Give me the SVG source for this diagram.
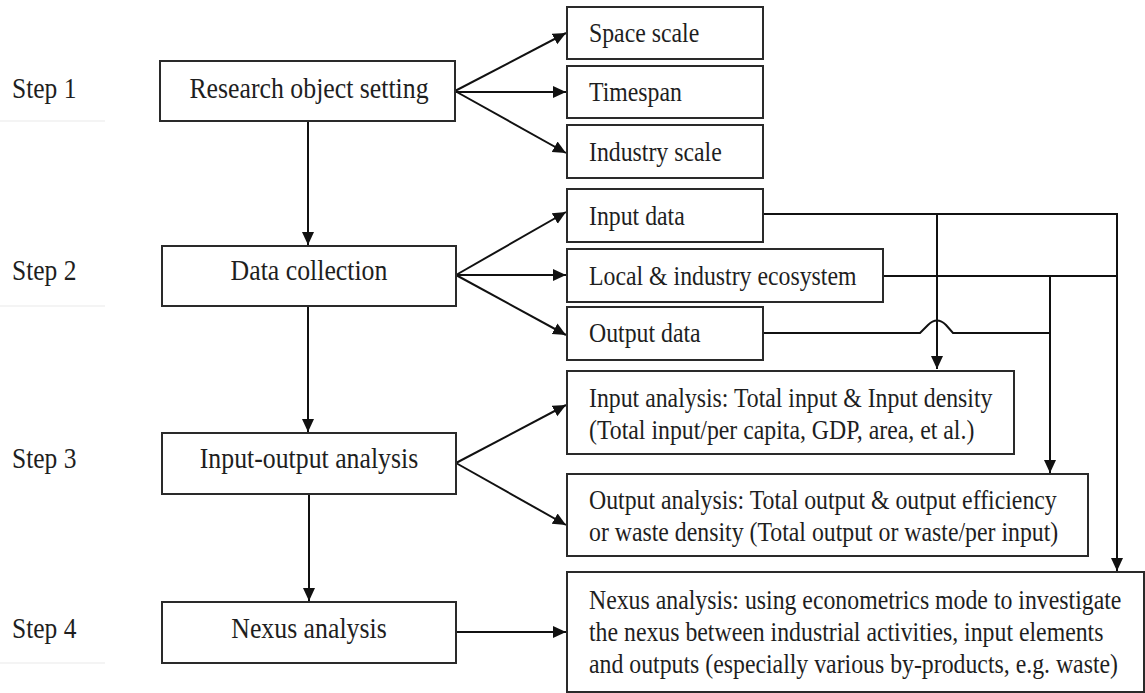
<svg xmlns="http://www.w3.org/2000/svg" width="1145" height="693" viewBox="0 0 1145 693">
<defs>
<style>
.box{fill:#fff;stroke:#2a2a2a;stroke-width:2}
.lt{font-family:"Liberation Serif","Times New Roman",serif;font-size:25.8px;fill:#1e1e1e;text-anchor:middle}
.st{font-family:"Liberation Serif","Times New Roman",serif;font-size:25.5px;fill:#1e1e1e}
.rt{font-family:"Liberation Serif","Times New Roman",serif;font-size:23.8px;fill:#1e1e1e}
.c{fill:none;stroke:#111;stroke-width:2}
.faint{stroke:#f0f0f0;stroke-width:1.5}
</style>
<marker id="ah" markerUnits="userSpaceOnUse" markerWidth="14" markerHeight="14" viewBox="0 0 14 14" refX="13" refY="7" orient="auto">
<path d="M0,1 L13,7 L0,13 Z" fill="#111"/>
</marker>
</defs>
<rect width="1145" height="693" fill="#fff"/>

<g id="steps">
<text class="st" x="12" y="98" transform="matrix(1 0 0 1.12 0 -11.76)">Step 1</text>
<text class="st" x="12" y="280" transform="matrix(1 0 0 1.12 0 -33.6)">Step 2</text>
<text class="st" x="12" y="468" transform="matrix(1 0 0 1.12 0 -56.16)">Step 3</text>
<text class="st" x="12" y="638" transform="matrix(1 0 0 1.12 0 -76.56)">Step 4</text>
<line class="faint" x1="0" y1="121" x2="105" y2="121"/>
<line class="faint" x1="0" y1="306" x2="105" y2="306"/>
<line class="faint" x1="0" y1="663" x2="105" y2="663"/>
</g>

<g id="connectors">
<path class="c" d="M308,122 V245" marker-end="url(#ah)"/>
<path class="c" d="M308,307 V432" marker-end="url(#ah)"/>
<path class="c" d="M309,495 V601" marker-end="url(#ah)"/>
<path class="c" d="M455,91 L566,33" marker-end="url(#ah)"/>
<path class="c" d="M455,92 H566" marker-end="url(#ah)"/>
<path class="c" d="M455,91 L566,153" marker-end="url(#ah)"/>
<path class="c" d="M456,275 L566,212" marker-end="url(#ah)"/>
<path class="c" d="M456,275 H566" marker-end="url(#ah)"/>
<path class="c" d="M456,275 L566,335" marker-end="url(#ah)"/>
<path class="c" d="M456,463 L566,405" marker-end="url(#ah)"/>
<path class="c" d="M456,463 L566,525" marker-end="url(#ah)"/>
<path class="c" d="M456,632 H566" marker-end="url(#ah)"/>
<path class="c" d="M763,214 H1117 V571" marker-end="url(#ah)"/>
<path class="c" d="M937,214 V369" marker-end="url(#ah)"/>
<path class="c" d="M883,276 H1117"/>
<path class="c" d="M1050,276 V473" marker-end="url(#ah)"/>
<path class="c" d="M763,333 H920 L928,325 Q937,316 946,325 L953,333 H1050"/>
</g>

<g id="n-research"><rect class="box" x="160" y="61" width="295" height="60"/><text class="lt" x="309" y="98" transform="matrix(1 0 0 1.12 0 -11.76)">Research object setting</text></g>
<g id="n-data"><rect class="box" x="162" y="246" width="294" height="60"/><text class="lt" x="309" y="280" transform="matrix(1 0 0 1.12 0 -33.6)">Data collection</text></g>
<g id="n-io"><rect class="box" x="162" y="433" width="294" height="61"/><text class="lt" x="309" y="468" transform="matrix(1 0 0 1.12 0 -56.16)">Input-output analysis</text></g>
<g id="n-nexus"><rect class="box" x="162" y="602" width="294" height="61"/><text class="lt" x="309" y="638" transform="matrix(1 0 0 1.12 0 -76.56)">Nexus analysis</text></g>

<g id="n-space"><rect class="box" x="567" y="7" width="196" height="52"/><text class="rt" x="589" y="42" transform="matrix(1 0 0 1.12 0 -5.04)">Space scale</text></g>
<g id="n-time"><rect class="box" x="567" y="66" width="196" height="52"/><text class="rt" x="589" y="101" transform="matrix(1 0 0 1.12 0 -12.12)">Timespan</text></g>
<g id="n-industry"><rect class="box" x="567" y="125" width="196" height="53"/><text class="rt" x="589" y="161" transform="matrix(1 0 0 1.12 0 -19.32)">Industry scale</text></g>

<g id="n-input"><rect class="box" x="567" y="189" width="196" height="53"/><text class="rt" x="589" y="225" transform="matrix(1 0 0 1.12 0 -27)">Input data</text></g>
<g id="n-local"><rect class="box" x="567" y="249" width="316" height="53"/><text class="rt" x="589" y="285" transform="matrix(1 0 0 1.12 0 -34.2)">Local &amp; industry ecosystem</text></g>
<g id="n-output"><rect class="box" x="567" y="307" width="196" height="53"/><text class="rt" x="589" y="342" transform="matrix(1 0 0 1.12 0 -41.04)">Output data</text></g>

<g id="n-inana"><rect class="box" x="567" y="371" width="447" height="83"/>
<text class="rt" x="589" y="407" transform="matrix(1 0 0 1.12 0 -48.84)">Input analysis: Total input &amp; Input density</text>
<text class="rt" x="589" y="439" transform="matrix(1 0 0 1.12 0 -52.68)">(Total input/per capita, GDP, area, et al.)</text></g>
<g id="n-outana"><rect class="box" x="567" y="474" width="521" height="82"/>
<text class="rt" x="589" y="509" transform="matrix(1 0 0 1.12 0 -61.08)">Output analysis: Total output &amp; output efficiency</text>
<text class="rt" x="589" y="541" transform="matrix(1 0 0 1.12 0 -64.92)">or waste density (Total output or waste/per input)</text></g>
<g id="n-nexana"><rect class="box" x="567" y="572" width="577" height="120"/>
<text class="rt" x="589" y="609" transform="matrix(1 0 0 1.12 0 -73.08)">Nexus analysis: using econometrics mode to investigate</text>
<text class="rt" x="589" y="641" transform="matrix(1 0 0 1.12 0 -76.92)">the nexus between industrial activities, input elements</text>
<text class="rt" x="589" y="673" transform="matrix(1 0 0 1.12 0 -80.76)">and outputs (especially various by-products, e.g. waste)</text></g>
</svg>
